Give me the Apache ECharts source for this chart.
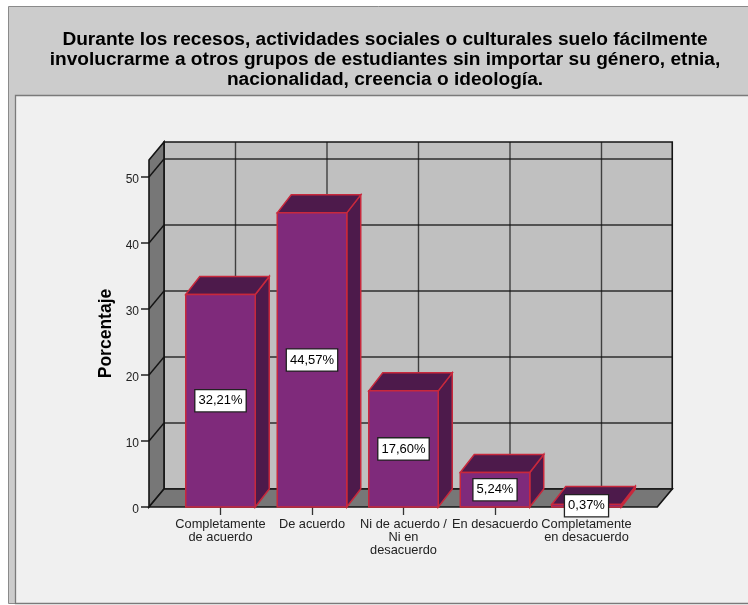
<!DOCTYPE html>
<html><head><meta charset="utf-8">
<style>html,body{margin:0;padding:0;background:#fff}#c{width:748px;height:605px}</style>
<script src="https://cdn.jsdelivr.net/npm/echarts@6/dist/echarts.min.js"></script>
</head><body><div id="c"></div>
<script>
const categories = ["Completamente\nde acuerdo", "De acuerdo", "Ni de acuerdo /\nNi en\ndesacuerdo", "En desacuerdo", "Completamente\nen desacuerdo"];
const values = [32.21, 44.57, 17.60, 5.24, 0.37];
const valueLabels = ["32,21%", "44,57%", "17,60%", "5,24%", "0,37%"];
const yTicks = [0, 10, 20, 30, 40, 50];
const titleLines = ["Durante los recesos, actividades sociales o culturales suelo fácilmente",
  "involucrarme a otros grupos de estudiantes sin importar su género, etnia,",
  "nacionalidad, creencia o ideología."];

const FONT = '"Liberation Sans", Arial, sans-serif';
const WALL_PAD_L = 25.75, WALL_PAD_R = 25, WALL_DX = 15, WALL_DY = -18, BAR_DX = 14, BAR_DY = -18, BAR_W = 69.5;
const EDGE = '#c8283c', FACE = '#7f2a7b', DARK = '#4d1a4b';
const LINE = '#141414';

function poly(points, fill, stroke, lw) {
  return { type: 'polygon', shape: { points }, style: { fill, stroke, lineWidth: lw, lineJoin: 'miter' } };
}
function seg(x1, y1, x2, y2, alpha) {
  return { type: 'line', shape: { x1, y1, x2, y2 }, style: { stroke: LINE, lineWidth: 1.4, opacity: alpha || 1 } };
}
function renderWalls(params, api) {
  const g = params.coordSys;
  const L = g.x - WALL_PAD_L, R = g.x + g.width + WALL_PAD_R, T = g.y, B = g.y + g.height;
  const d = WALL_DX, h = WALL_DY;
  const ch = [
    poly([[L + d, T + h], [R + d, T + h], [R + d, B + h], [L + d, B + h]], '#c0c0c0', LINE, 1.6),
    poly([[L, T], [L + d, T + h], [L + d, B + h], [L, B]], '#777777', LINE, 1.6),
    poly([[L, B], [L + d, B + h], [R + d, B + h], [R, B]], '#777777', LINE, 1.6)
  ];
  yTicks.forEach(v => {
    const y = api.coord([0, v])[1];
    if (v > 0) ch.push(seg(L + d, y + h, R + d, y + h, 0.85));
    if (v > 0) ch.push(seg(L, y, L + d, y + h));
  });
  categories.forEach((c, i) => {
    const x = api.coord([i, 0])[0] + d;
    ch.push(seg(x, T + h, x, B + h, 0.75));
  });
  return { type: 'group', children: ch };
}
function renderBar(params, api) {
  const i = api.value(0), v = api.value(1);
  const p = api.coord([i, v]), b = api.coord([i, 0]);
  const x0 = p[0] - BAR_W / 2, x1 = p[0] + BAR_W / 2, yt = p[1], yb = b[1];
  return { type: 'group', children: [
    poly([[x1, yt], [x1 + BAR_DX, yt + BAR_DY], [x1 + BAR_DX, yb + BAR_DY], [x1, yb]], DARK, EDGE, 1.5),
    poly([[x0, yt], [x0 + BAR_DX, yt + BAR_DY], [x1 + BAR_DX, yt + BAR_DY], [x1, yt]], DARK, EDGE, 1.5),
    poly([[x0, yt], [x1, yt], [x1, yb], [x0, yb]], FACE, EDGE, 1.5)
  ]};
}
function renderLabel(params, api) {
  const i = api.value(0), v = api.value(1);
  const p = api.coord([i, v / 2]);
  return { type: 'text', x: p[0], y: p[1], style: {
    text: valueLabels[i], font: '13px ' + FONT, fill: '#000', align: 'center', verticalAlign: 'middle',
    backgroundColor: '#fff', borderColor: '#222', borderWidth: 1.3, padding: [4, 3, 4, 3]
  }};
}

const chart = echarts.init(document.getElementById('c'), null, { renderer: 'canvas' });
chart.setOption({
  animation: false,
  backgroundColor: '#ffffff',
  graphic: [
    { type: 'rect', z: -10, shape: { x: 8.5, y: 6.5, width: 745, height: 597 },
      style: { fill: '#cccccc', stroke: '#8a8a8a', lineWidth: 1 } },
    { type: 'rect', z: -9, shape: { x: 15.5, y: 95.5, width: 740, height: 508 },
      style: { fill: '#f0f0f0', stroke: '#7a7a7a', lineWidth: 1.3 } }
  ],
  title: {
    text: titleLines.join('\n'), left: 380, top: 25, textAlign: 'center',
    textStyle: { fontFamily: FONT, fontSize: 19.1, fontWeight: 'bold', color: '#000', lineHeight: 20 }
  },
  grid: { left: 174.75, width: 457.5, top: 160, height: 347, containLabel: false },
  xAxis: {
    type: 'category', data: categories, boundaryGap: true,
    axisLine: { show: false },
    axisTick: { show: true, alignWithLabel: true, length: 8, lineStyle: { color: '#333', width: 1.3 } },
    axisLabel: { interval: 0, margin: 11, fontFamily: FONT, fontSize: 12.8, color: '#222', lineHeight: 13, hideOverlap: false },
    splitLine: { show: false }
  },
  yAxis: {
    type: 'value', min: 0, max: 52.58, offset: 25.75,
    name: 'Porcentaje', nameLocation: 'middle', nameGap: 32.5,
    nameTextStyle: { fontFamily: FONT, fontSize: 17.5, fontWeight: 'bold', color: '#000' },
    axisLine: { show: false },
    axisTick: { show: true, length: 8, customValues: yTicks, lineStyle: { color: '#222', width: 1.5 } },
    axisLabel: { customValues: yTicks, margin: 10, formatter: '{a|{value}}',
      rich: { a: { fontFamily: FONT, fontSize: 12, color: '#222', padding: [6, 0, 0, 0] } } },
    splitLine: { show: false }
  },
  series: [
    { type: 'custom', z: 1, silent: true, data: [[0, 0]], renderItem: renderWalls, encode: { x: 0, y: 1 } },
    { type: 'custom', z: 2, silent: true, data: categories.map((c, i) => [i, values[i]]), renderItem: renderBar, encode: { x: 0, y: 1 } },
    { type: 'custom', z: 3, silent: true, data: categories.map((c, i) => [i, values[i]]), renderItem: renderLabel, encode: { x: 0, y: 1 } }
  ]
});
</script></body></html>
